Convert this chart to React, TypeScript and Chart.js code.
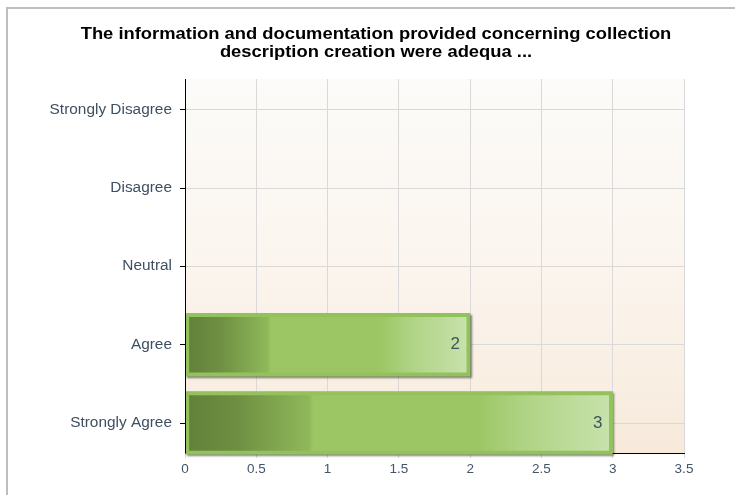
import React, { useEffect, useRef } from "react";
import { Chart, registerables } from "chart.js";

Chart.register(...registerables);

const titleLines = [
  "The information and documentation provided concerning collection",
  "description creation were adequa ...",
];
const categories = ["Strongly Disagree", "Disagree", "Neutral", "Agree", "Strongly Agree"];
const responses = [0, 0, 0, 2, 3];
const xTicks = [0, 0.5, 1, 1.5, 2, 2.5, 3, 3.5];

const FONT = "'Liberation Sans', Arial, sans-serif";

export default function App() {
  const ref = useRef<HTMLCanvasElement | null>(null);

  useEffect(() => {
    const canvas = ref.current;
    if (!canvas) return;

    const framePlugin = {
      id: "frame",
      beforeDraw(chart: any) {
        const { ctx, chartArea } = chart;
        ctx.save();
        const g = ctx.createLinearGradient(0, chartArea.top, 0, chartArea.bottom);
        g.addColorStop(0, "#fbfbf9");
        g.addColorStop(0.5, "#fbf5ee");
        g.addColorStop(1, "#f7eadb");
        ctx.fillStyle = g;
        ctx.fillRect(chartArea.left, chartArea.top, chartArea.right - chartArea.left, chartArea.bottom - chartArea.top);
        ctx.strokeStyle = "#bdbdbd";
        ctx.lineWidth = 2;
        ctx.beginPath();
        ctx.moveTo(7, 495);
        ctx.lineTo(7, 8);
        ctx.lineTo(735, 8);
        ctx.stroke();
        ctx.fillStyle = "#000";
        ctx.font = `bold 17px ${FONT}`;
        ctx.textAlign = "center";
        ctx.textBaseline = "middle";
        titleLines.forEach((t, i) => {
          ctx.save();
          ctx.translate(376, 34 + i * 18);
          ctx.scale(1.08, 1);
          ctx.fillText(t, 0, 0);
          ctx.restore();
        });
        const ys = chart.scales.y;
        const left = chart.chartArea.left;
        ctx.fillStyle = "#3d4f61";
        ctx.font = `14px ${FONT}`;
        ctx.textAlign = "right";
        categories.forEach((c, i) => {
          ctx.save();
          ctx.translate(left - 13, ys.getPixelForValue(i));
          ctx.scale(1.1, 1);
          ctx.fillText(c, 0, 0);
          ctx.restore();
        });
        ctx.restore();
      },
      beforeDatasetsDraw(chart: any) {
        const ctx = chart.ctx;
        const meta = chart.getDatasetMeta(0);
        ctx.save();
        ctx.shadowColor = "rgba(0,0,0,0.5)";
        ctx.shadowOffsetX = 1.5;
        ctx.shadowOffsetY = 1.5;
        ctx.shadowBlur = 2;
        ctx.fillStyle = "#93c25d";
        meta.data.forEach((el: any, i: number) => {
          if (!responses[i]) return;
          const p = el.getProps(["x", "y", "base", "height"], true);
          ctx.fillRect(p.base, p.y - p.height / 2, p.x - p.base, p.height);
        });
        ctx.restore();
      },
      afterDatasetsDraw(chart: any) {
        const ctx = chart.ctx;
        const area = chart.chartArea;
        ctx.save();
        ctx.strokeStyle = "#000";
        ctx.lineWidth = 1;
        ctx.beginPath();
        ctx.moveTo(area.left + 0.5, area.top);
        ctx.lineTo(area.left + 0.5, area.bottom);
        ctx.stroke();
        const meta = chart.getDatasetMeta(0);
        ctx.fillStyle = "#3d5656";
        ctx.font = `17px ${FONT}`;
        ctx.textAlign = "center";
        ctx.textBaseline = "middle";
        meta.data.forEach((el: any, i: number) => {
          const v = responses[i];
          if (!v) return;
          ctx.fillText(String(v), el.x - 15, el.y);
        });
        ctx.restore();
      },
    };

    const chart = new Chart(canvas, {
      type: "bar",
      data: {
        datasets: [
          {
            data: responses.map((v, i) => ({ x: v, y: i })) as any,
            barThickness: 63,
            borderSkipped: false,
            backgroundColor: (c: any) => {
              const chart = c.chart;
              const xs = chart.scales && chart.scales.x;
              const v = responses[c.dataIndex];
              if (!v) return "rgba(0,0,0,0)";
              if (!xs) return "#9bc663";
              const x0 = xs.getPixelForValue(0);
              const x1 = xs.getPixelForValue(v);
              const g = chart.ctx.createLinearGradient(x0, 0, x1, 0);
              g.addColorStop(0, "#62803a");
              g.addColorStop(0.12, "#6e8f42");
              g.addColorStop(0.29, "#8fb85a");
              g.addColorStop(0.3, "#9bc663");
              g.addColorStop(0.68, "#9bc663");
              g.addColorStop(0.8, "#b0d486");
              g.addColorStop(1, "#c8e2ad");
              return g;
            },
            borderColor: (c: any) => (responses[c.dataIndex] ? "#93c25d" : "rgba(0,0,0,0)"),
            borderWidth: (c: any) => (responses[c.dataIndex] ? 4 : 0),
          } as any,
        ],
      },
      options: {
        animation: false,
        responsive: false,
        indexAxis: "y",
        layout: { padding: { top: 79, right: 51, left: 0, bottom: 0 } },
        plugins: {
          legend: { display: false },
          title: { display: false },
          tooltip: { enabled: false },
        },
        scales: {
          x: {
            type: "linear",
            min: 0,
            max: 3.5,
            afterBuildTicks: (s: any) => {
              s.ticks = xTicks.map((v) => ({ value: v }));
            },
            afterFit: (s: any) => {
              s.height = 42;
            },
            ticks: {
              color: "#44556a",
              font: { family: FONT, size: 13.5 },
              padding: 3,
              maxRotation: 0,
              callback: (v: any) => String(v),
            },
            grid: { color: "#d9d9d9", tickColor: "#d9d9d9", tickLength: 5 },
            border: { color: "#000", width: 1 },
          },
          y: {
            type: "linear",
            reverse: true,
            offset: false,
            min: -0.396,
            max: 4.383,
            afterBuildTicks: (s: any) => {
              s.ticks = categories.map((_, i) => ({ value: i }));
            },
            afterFit: (s: any) => {
              s.width = 185;
            },
            ticks: { display: false },
            grid: { offset: false, color: "#d9d9d9", tickColor: "#000", tickLength: 5 },
            border: { color: "#000", width: 1 },
          },
        },
      },
      plugins: [framePlugin],
    } as any);

    return () => chart.destroy();
  }, []);

  return (
    <div style={{ position: "fixed", left: 0, top: 0, width: 735, height: 495, background: "#fff" }}>
      <canvas ref={ref} width={735} height={495} style={{ width: 735, height: 495, display: "block" }} />
    </div>
  );
}
